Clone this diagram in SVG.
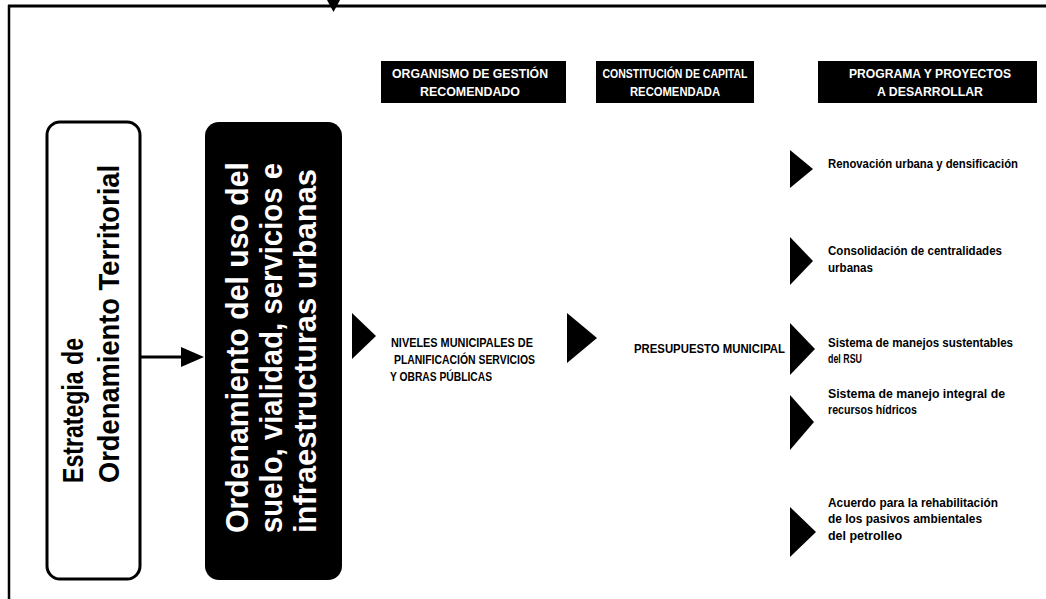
<svg xmlns="http://www.w3.org/2000/svg" width="1046" height="599" viewBox="0 0 1046 599">
<style>
text{font-family:"Liberation Sans Narrow","Liberation Sans",Arial,sans-serif;font-weight:bold}
.hd{fill:#fff;font-size:13px;text-anchor:middle}
.big{font-size:30px;fill:#000}
.bigw{font-size:32px;fill:#fff}
.mid{font-size:12px;fill:#000}
.item{font-size:12.5px;fill:#000}
.tri{fill:#000}
</style>
<rect width="1046" height="599" fill="#fff"/>
<g id="frame">
<line x1="8" y1="6" x2="1046" y2="6" stroke="#000" stroke-width="3"/>
<line x1="9" y1="5" x2="9" y2="599" stroke="#000" stroke-width="2.5"/>
<polygon points="327,0 340,0 333.5,12" fill="#000"/>
</g>
<g id="node-estrategia">
<rect x="47" y="122" width="93" height="457" rx="13" fill="#fff" stroke="#000" stroke-width="3"/>
<text class="big" transform="translate(83,483) rotate(-90)" textLength="145" lengthAdjust="spacingAndGlyphs">Estrategia de</text>
<text class="big" transform="translate(119,483) rotate(-90)" textLength="318" lengthAdjust="spacingAndGlyphs">Ordenamiento Territorial</text>
</g>
<g id="node-ordenamiento">
<rect x="205" y="122" width="137" height="458" rx="14" fill="#000"/>
<text class="bigw" transform="translate(248,533) rotate(-90)" textLength="371" lengthAdjust="spacingAndGlyphs">Ordenamiento del uso del</text>
<text class="bigw" transform="translate(282,533) rotate(-90)" textLength="370" lengthAdjust="spacingAndGlyphs">suelo, vialidad, servicios e</text>
<text class="bigw" transform="translate(316,533) rotate(-90)" textLength="364" lengthAdjust="spacingAndGlyphs">infraestructuras urbanas</text>
</g>
<g id="header-organismo">
<rect x="381" y="61" width="185" height="42" fill="#000"/>
<text class="hd" x="470" y="78" textLength="156" lengthAdjust="spacingAndGlyphs">ORGANISMO DE GESTIÓN</text>
<text class="hd" x="470" y="96" textLength="100" lengthAdjust="spacingAndGlyphs">RECOMENDADO</text>
</g>
<g id="header-capital">
<rect x="596" y="61" width="158" height="42" fill="#000"/>
<text class="hd" x="675" y="78" textLength="145" lengthAdjust="spacingAndGlyphs">CONSTITUCIÓN DE CAPITAL</text>
<text class="hd" x="675" y="96" textLength="90" lengthAdjust="spacingAndGlyphs">RECOMENDADA</text>
</g>
<g id="header-programa">
<rect x="818" y="61" width="219" height="42" fill="#000"/>
<text class="hd" x="930" y="78" textLength="162" lengthAdjust="spacingAndGlyphs">PROGRAMA Y PROYECTOS</text>
<text class="hd" x="930" y="96" textLength="106" lengthAdjust="spacingAndGlyphs">A DESARROLLAR</text>
</g>
<g id="node-niveles">
<text class="mid" x="391" y="347" textLength="142" lengthAdjust="spacingAndGlyphs">NIVELES MUNICIPALES DE</text>
<text class="mid" x="394" y="364" textLength="141" lengthAdjust="spacingAndGlyphs">PLANIFICACIÓN SERVICIOS</text>
<text class="mid" x="390" y="381" textLength="102" lengthAdjust="spacingAndGlyphs">Y OBRAS PÚBLICAS</text>
</g>
<g id="node-presupuesto">
<text class="mid" x="634" y="353" textLength="151" lengthAdjust="spacingAndGlyphs">PRESUPUESTO MUNICIPAL</text>
</g>
<g id="node-renovacion">
<text class="item" x="828" y="168" textLength="190" lengthAdjust="spacingAndGlyphs">Renovación urbana y densificación</text>
</g>
<g id="node-consolidacion">
<text class="item" x="828" y="255" textLength="174" lengthAdjust="spacingAndGlyphs">Consolidación de centralidades</text>
<text class="item" x="828" y="272" textLength="45" lengthAdjust="spacingAndGlyphs">urbanas</text>
</g>
<g id="node-rsu">
<text class="item" x="828" y="347" textLength="185" lengthAdjust="spacingAndGlyphs">Sistema de manejos sustentables</text>
<text class="item" x="828" y="363" textLength="34" lengthAdjust="spacingAndGlyphs">del RSU</text>
</g>
<g id="node-hidricos">
<text class="item" x="828" y="398" textLength="177" lengthAdjust="spacingAndGlyphs">Sistema de manejo integral de</text>
<text class="item" x="828" y="414" textLength="89" lengthAdjust="spacingAndGlyphs">recursos hídricos</text>
</g>
<g id="node-pasivos">
<text class="item" x="828" y="507" textLength="170" lengthAdjust="spacingAndGlyphs">Acuerdo para la rehabilitación</text>
<text class="item" x="828" y="523" textLength="154" lengthAdjust="spacingAndGlyphs">de los pasivos ambientales</text>
<text class="item" x="828" y="540" textLength="74" lengthAdjust="spacingAndGlyphs">del petrolleo</text>
</g>
<g id="connectors">
<line x1="140" y1="357" x2="184" y2="357" stroke="#000" stroke-width="3"/>
<polygon points="181,347 204,357 181,367" fill="#000"/>
<polygon class="tri" points="352,313 376,336 352,359"/>
<polygon class="tri" points="567,313 597,338 567,363"/>
<polygon class="tri" points="790,150 813,169 790,188"/>
<polygon class="tri" points="790,237 813,261 790,285"/>
<polygon class="tri" points="790,323 815,349 790,375"/>
<polygon class="tri" points="790,395 814,422 790,450"/>
<polygon class="tri" points="790,507 816,532 790,557"/>
</g>
</svg>
